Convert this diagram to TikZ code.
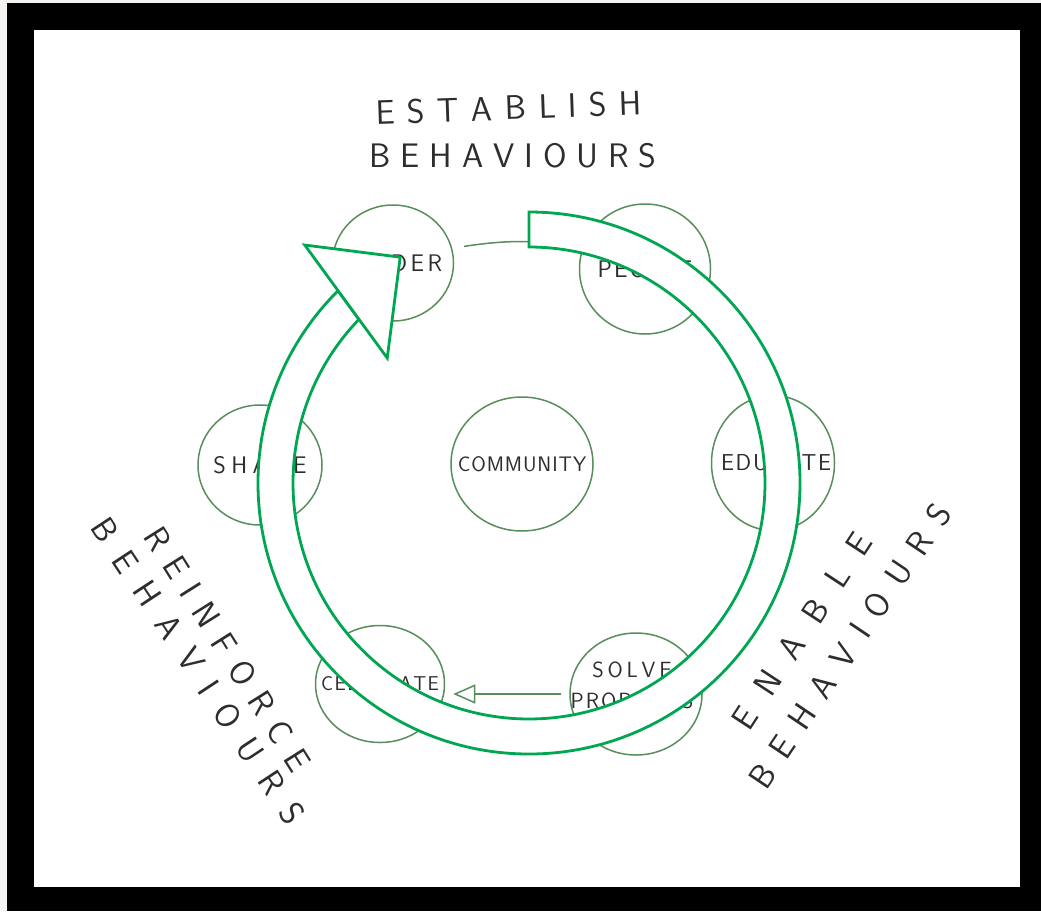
\documentclass[tikz,border=0pt]{standalone}
\usepackage{fontspec}
\usetikzlibrary{shapes.geometric,arrows.meta}
\definecolor{ringgreen}{RGB}{0,166,81}
\definecolor{sketch}{RGB}{88,142,92}
\definecolor{ink}{RGB}{45,45,45}
\definecolor{paper}{RGB}{244,243,241}
\ExplSyntaxOn
\NewDocumentCommand\spacedtext{mm}{\tl_map_inline:nn{#2}{##1\hspace{#1}}\unskip}
\ExplSyntaxOff
\begin{document}
\begin{tikzpicture}[x=1pt,y=1pt,
  bubble/.style={ellipse, draw=sketch, line width=1.5pt, inner sep=0pt},
  lbl/.style={text=ink, font=\fontsize{#1}{#1}\selectfont\sffamily},
  bigtext/.style={text=ink, inner sep=0pt, font=\fontsize{34}{38}\selectfont\sffamily},
  conn/.style={draw=sketch, line width=1.5pt},
  ring/.style={draw=ringgreen, fill=white, line width=2.8pt, line join=miter}]
\useasboundingbox (0,0) rectangle (1041,-911);
% frame
\fill[paper] (0,0) rectangle (1041,-911);
\fill[black] (7,-3) rectangle (1041,-911);
\fill[white] (34,-30) rectangle (1020,-887);

% bubbles
\node[bubble, minimum width=121pt, minimum height=116pt, label={[lbl=24, xshift=-2pt]center:\spacedtext{3.5pt}{LEADER}}] (leader) at (393,-263) {};
\node[bubble, minimum width=131pt, minimum height=130pt, label={[lbl=24]center:\spacedtext{2pt}{PEOPLE}}] (people) at (645,-269) {};
\node[bubble, minimum width=124pt, minimum height=120pt, label={[lbl=24]center:\spacedtext{5.5pt}{SHARE}}] (share) at (260,-465) {};
\node[bubble, minimum width=142pt, minimum height=134pt, label={[lbl=21]center:\spacedtext{0.9pt}{COMMUNITY}}] (community) at (522,-464) {};
\node[bubble, minimum width=123pt, minimum height=135pt, label={[lbl=23, xshift=3pt]center:\spacedtext{1.8pt}{EDUCATE}}] (educate) at (773,-463) {};
\node[bubble, minimum width=132pt, minimum height=122pt, label={[lbl=22, align=center, xshift=-4pt, yshift=9pt]center:\spacedtext{3.8pt}{SOLVE}\\[9pt]\spacedtext{2pt}{PROBLEMS}}] (solve) at (636,-694) {};
\node[bubble, minimum width=129pt, minimum height=117pt, label={[lbl=20]center:\spacedtext{1.5pt}{CELEBRATE}}] (celebrate) at (380,-684) {};

% connectors
\draw[conn, -{Triangle[open,length=12pt,width=10pt]}, shorten <=12pt] (leader.14) to[bend left=8] (people.160);
\draw[conn, -{Triangle[open,length=22pt,width=19pt]}, shorten <=8pt, shorten >=8pt] (solve.west) -- (solve.west -| celebrate.east);

% big circular arrow
\begin{scope}[shift={(529,-483)}]
\path[ring] (90:271) arc[start angle=90, end angle=-225.2, radius=271]
  -- (-223.9:236) arc[start angle=-223.9, end angle=90, radius=236] -- cycle;
\path[ring] (133.3:327) -- (119.7:260) -- (138.6:189) -- cycle;
\end{scope}

% titles
\node[bigtext, rotate=2] (est) at (509,-108) {\spacedtext{12.3pt}{ESTABLISH}};
\node[bigtext] (beh1) at (513,-156) {\spacedtext{9.9pt}{BEHAVIOURS}};
\node[bigtext, rotate=-57.8] (rein) at (228,-649) {\spacedtext{13.6pt}{REINFORCE}};
\node[bigtext, rotate=-56.6] (beh2) at (198,-671) {\spacedtext{18pt}{BEHAVIOURS}};
\node[bigtext, rotate=56.8] (enab) at (802,-631) {\spacedtext{21.4pt}{ENABLE}};
\node[bigtext, rotate=56.1] (beh3) at (850,-646) {\spacedtext{15.2pt}{BEHAVIOURS}};
\end{tikzpicture}
\end{document}
